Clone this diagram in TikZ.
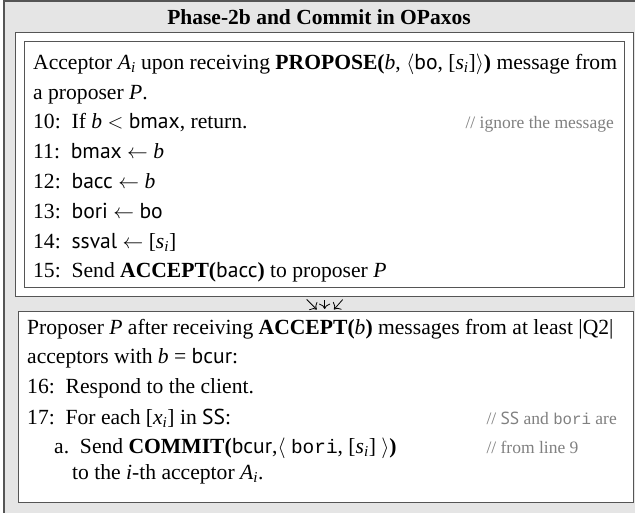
\documentclass[tikz,border=0pt]{standalone}
\usepackage{fontspec}
\setmainfont{Liberation Serif}
\setsansfont{PT Sans}
\setmonofont[Scale=0.9]{Liberation Mono}
\usepackage{amsmath}
\usetikzlibrary{positioning,arrows.meta}
\definecolor{panelgray}{HTML}{E5E5E5}
\definecolor{framegray}{HTML}{555555}
\definecolor{notegray}{HTML}{808080}
\newcommand{\vr}[1]{\textit{#1}}
\newcommand{\vsub}[2]{\textit{#1}\textsubscript{\textit{#2}}}

\begin{document}
\begin{tikzpicture}[x=1pt,y=-1pt,
    txt/.style={anchor=base west,inner sep=0pt,font=\fontsize{21.6}{25}\selectfont},
    note/.style={anchor=base west,inner sep=0pt,font=\fontsize{17.5}{20}\selectfont,text=notegray},
    frame/.style={draw=framegray,line width=1.3pt,fill=white,anchor=north west,inner sep=0pt},
    msg/.style={-{To[scale=1.6]},line width=0.8pt,shorten <=3pt,shorten >=2pt}]
    \useasboundingbox (0,0) rectangle (635,512);
    % grey panel round everything
    \draw[draw=framegray,line width=1.5pt,fill=panelgray] (4,1) rectangle (650,530);
    \node[font=\fontsize{21.5}{25}\selectfont\bfseries] (title) at (319,17) {Phase-2b and Commit in OPaxos};

    % acceptor side
    \node[frame,minimum width=618pt,minimum height=264pt] (accframe) at (15,32) {};
    \node[frame,minimum width=600pt,minimum height=246pt] (accbox) at (24,41) {};
    \node[txt] (acc1) at (33,69) {Acceptor \vsub{A}{i} upon receiving \textbf{PROPOSE(}\vr{b}, $\langle$\textsf{bo}, [\vsub{s}{i}]$\rangle$\textbf{)} message from};
    \node[txt] (acc2) at (33,99) {a proposer \vr{P}.};
    \node[txt] (l10) at (33,128) {10:\ \ If \vr{b} $<$ \textsf{bmax}, return.};
    \node[note,anchor=base east] (n10) at (614,128) {// ignore the message};
    \node[txt] (l11) at (33,158) {11:\ \ \textsf{bmax} $\leftarrow$ \vr{b}};
    \node[txt] (l12) at (33,188) {12:\ \ \textsf{bacc} $\leftarrow$ \vr{b}};
    \node[txt] (l13) at (33,218) {13:\ \ \textsf{bori} $\leftarrow$ \textsf{bo}};
    \node[txt] (l14) at (33,248) {14:\ \ \textsf{ssval} $\leftarrow$ [\vsub{s}{i}]};
    \node[txt] (l15) at (33,277) {15:\ \ Send \textbf{ACCEPT(}\textsf{bacc}\textbf{)} to proposer \vr{P}};

    % proposer side
    \node[frame,minimum width=615pt,minimum height=191pt] (propbox) at (18,311) {};
    \node[txt] (prop1) at (27,334) {Proposer \vr{P} after receiving \textbf{ACCEPT(}\vr{b}\textbf{)} messages from at least |Q2|};
    \node[txt] (prop2) at (27,363) {acceptors with \vr{b} = \textsf{bcur}:};
    \node[txt] (l16) at (27,393) {16:\ \ Respond to the client.};
    \node[txt] (l17) at (27,424) {17:\ \ For each [\vsub{x}{i}] in \textsf{SS}:};
    \node[note,anchor=base east] (n17) at (617,424) {// \textsf{SS} and \texttt{bori} are};
    \node[txt] (l17a) at (54,453) {a.\ \ Send \textbf{COMMIT(}\textsf{bcur},$\langle$\ \texttt{bori}, [\vsub{s}{i}]\ $\rangle$\textbf{)}};
    \node[note] (n17a) at (n17.base west |- l17a.base) {// from line 9};
    \node[txt] (l17b) at (72,479) {to the \vr{i}-th acceptor \vsub{A}{i}.};

    % the accept messages
    \draw[msg] ([xshift=-20pt]accframe.south) -- ([xshift=-8pt]propbox.north);
    \draw[msg] (accframe.south) -- (accframe.south |- propbox.north);
    \draw[msg] ([xshift=20pt]accframe.south) -- ([xshift=8pt]accframe.south |- propbox.north);
\end{tikzpicture}
\end{document}
